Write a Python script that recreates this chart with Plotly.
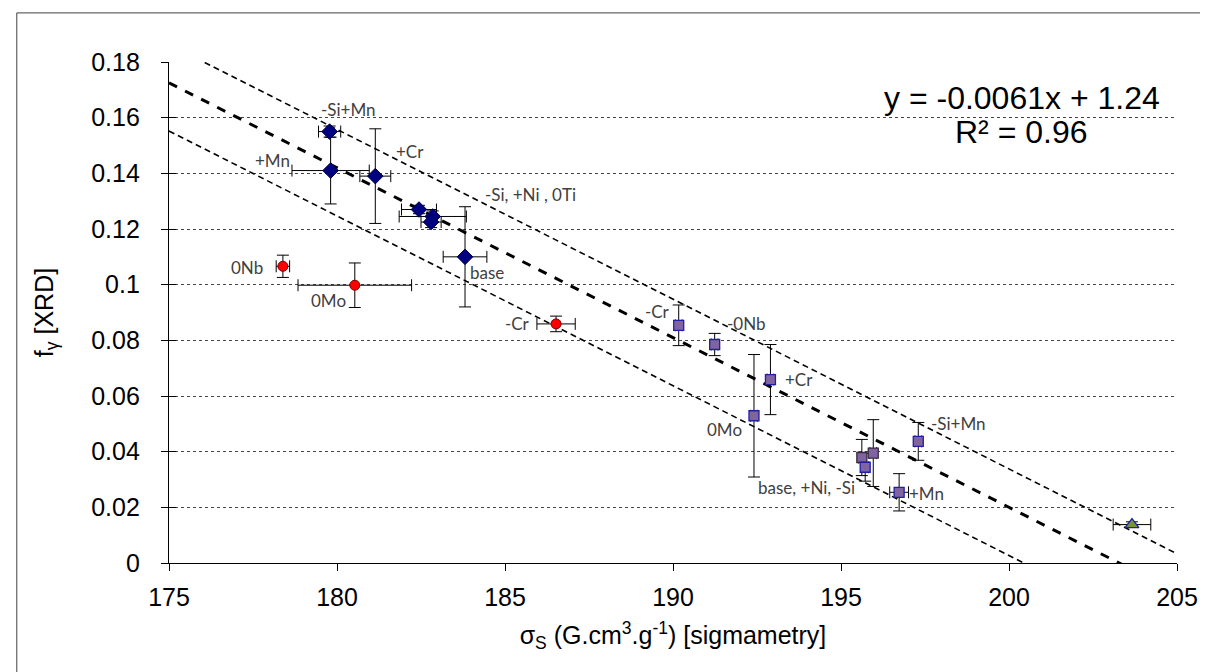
import plotly.graph_objects as go

# ---- data ----
dia_x = [179.78, 179.81, 181.14, 182.44, 182.85, 182.80, 183.81]
dia_y = [0.155, 0.141, 0.139, 0.127, 0.1245, 0.1225, 0.110]
dia_xerr = [0.33, 1.15, 0.46, 0.52, 1.0, 0.3, 0.65]
dia_yerr = [0.002, 0.012, 0.017, 0.0015, 0.002, 0.002, 0.018]

red_x = [178.39, 180.53, 186.52]
red_y = [0.1066, 0.0998, 0.0859]
red_xerr = [0.2, 1.69, 0.57]
red_yerr = [0.004, 0.008, 0.0028]

sq_x = [190.17, 191.24, 192.90, 192.41, 195.62, 195.72, 195.96, 196.73, 197.30]
sq_y = [0.0854, 0.0785, 0.0659, 0.0529, 0.0379, 0.0344, 0.0395, 0.0254, 0.0437]
sq_xerr = [0.1, 0.1, 0.1, 0.1, 0.1, 0.1, 0.1, 0.28, 0.1]
sq_yerr = [0.0073, 0.004, 0.0126, 0.022, 0.0065, 0.005, 0.012, 0.0067, 0.0068]
sq_edge = ["#1f1fa8", "#1f1fa8", "#1f1fa8", "#1f1fa8", "#3a2a40", "#1f1fa8", "#3a2a40", "#1f1fa8", "#1f1fa8"]

tri_x = [203.66]
tri_y = [0.0138]
tri_xerr = [0.56]
tri_yerr = [0.001]

fit_slope = -0.0061
fit_intercepts = [1.24, 1.2538, 1.2227]   # trend, upper bound, lower bound
fit_widths = [3, 1.6, 1.6]
fit_xrange = [175, 205]

label_text = ["-Si+Mn", "+Cr", "+Mn", "-Si, +Ni , 0Ti", "base", "0Nb", "0Mo", "-Cr",
              "-Cr", "-0Nb", "+Cr", "0Mo", "base, +Ni, -Si", "+Mn", "-Si+Mn"]
label_x = [180.33, 182.17, 178.09, 184.35, 183.9, 177.31, 179.76, 185.37,
           189.55, 192.2, 193.76, 191.52, 193.96, 197.54, 198.5]
label_y = [0.163, 0.148, 0.1446, 0.1323, 0.1042, 0.1062, 0.0943, 0.0859,
           0.0904, 0.0859, 0.0659, 0.0479, 0.0272, 0.0248, 0.0503]
label_anchor = ["center", "center", "center", "left", "left", "center", "center", "center",
                "center", "center", "center", "center", "center", "center", "center"]

y_ticks = [0, 0.02, 0.04, 0.06, 0.08, 0.1, 0.12, 0.14, 0.16, 0.18]
y_ticktext = ["0", "0.02", "0.04", "0.06", "0.08", "0.1", "0.12", "0.14", "0.16", "0.18"]
x_ticks = [175, 180, 185, 190, 195, 200, 205]

fig = go.Figure()

for b, w in zip(fit_intercepts, fit_widths):
    fig.add_trace(go.Scatter(
        x=fit_xrange, y=[fit_slope * v + b for v in fit_xrange], mode="lines",
        line=dict(color="black", width=w, dash="dash" if w > 2 else "6px,4px"),
        showlegend=False, hoverinfo="skip"))

def err(arr):
    return dict(type="data", array=arr, visible=True, color="black", thickness=1, width=6)

fig.add_trace(go.Scatter(x=dia_x, y=dia_y, mode="markers",
    marker=dict(symbol="diamond", size=12, color="#000080", line=dict(color="#000040", width=1)),
    error_x=err(dia_xerr), error_y=err(dia_yerr), showlegend=False))
fig.add_trace(go.Scatter(x=red_x, y=red_y, mode="markers",
    marker=dict(symbol="circle", size=10, color="#ff0000", line=dict(color="#7a0000", width=1)),
    error_x=err(red_xerr), error_y=err(red_yerr), showlegend=False))
fig.add_trace(go.Scatter(x=sq_x, y=sq_y, mode="markers",
    marker=dict(symbol="square", size=10, color="#8064a2", line=dict(color=sq_edge, width=1.3)),
    error_x=err(sq_xerr), error_y=err(sq_yerr), showlegend=False))
fig.add_trace(go.Scatter(x=tri_x, y=tri_y, mode="markers",
    marker=dict(symbol="triangle-up", size=12, color="#77933c", line=dict(color="#1f1fa8", width=1.3)),
    error_x=err(tri_xerr), error_y=err(tri_yerr), showlegend=False))

# invisible trace on an overlay axis used only to draw the inner half of the crossing y ticks
fig.add_trace(go.Scatter(x=[None], y=[None], yaxis="y2", showlegend=False, hoverinfo="skip"))

for t, x, y, a in zip(label_text, label_x, label_y, label_anchor):
    fig.add_annotation(x=x, y=y, text=t, showarrow=False, xanchor=a, yanchor="middle",
                       font=dict(family="Lato", size=17, color="#404040"))

fig.add_annotation(xref="paper", yref="paper", x=0.846, y=0.929, text="y = -0.0061x + 1.24",
                   xanchor="center", yanchor="middle",
                   showarrow=False, font=dict(family="Liberation Sans", size=32, color="black"))
fig.add_annotation(xref="paper", yref="paper", x=0.846, y=0.860, text="R² = 0.96",
                   xanchor="center", yanchor="middle",
                   showarrow=False, font=dict(family="Liberation Sans", size=32, color="black"))

fig.add_shape(type="rect", xref="paper", yref="paper", x0=-0.151, x1=1.034, y0=-0.2236, y1=1.098,
              line=dict(color="#404040", width=1))

fig.update_layout(
    width=1208, height=672,
    margin=dict(l=161, r=39, t=54, b=117),
    paper_bgcolor="white", plot_bgcolor="white",
    font=dict(family="Liberation Sans", color="black"),
    xaxis=dict(range=[175, 205], tickvals=x_ticks, showgrid=False, zeroline=False,
               showline=True, linecolor="black", linewidth=1.3,
               ticks="outside", ticklen=7, tickcolor="black",
               tickfont=dict(size=25), ticklabelstandoff=5,
               title=dict(text="σ<sub>S</sub> (G.cm<sup>3</sup>.g<sup>-1</sup>) [sigmametry]",
                          font=dict(size=25), standoff=16)),
    yaxis=dict(range=[0, 0.18], tickvals=y_ticks, ticktext=y_ticktext,
               showgrid=True, gridcolor="#444", griddash="dot", gridwidth=1,
               zeroline=False, showline=True, linecolor="black", linewidth=1.3,
               ticks="outside", ticklen=7, tickcolor="black",
               tickfont=dict(size=25), ticklabelstandoff=16,
               title=dict(text="f<sub>γ</sub> [XRD]", font=dict(size=25), standoff=30)),
    yaxis2=dict(range=[0, 0.18], tickvals=y_ticks, overlaying="y", side="left",
                showgrid=False, zeroline=False, showline=False, showticklabels=False,
                ticks="inside", ticklen=7, tickcolor="black"),
)

fig.write_html("out.html")
